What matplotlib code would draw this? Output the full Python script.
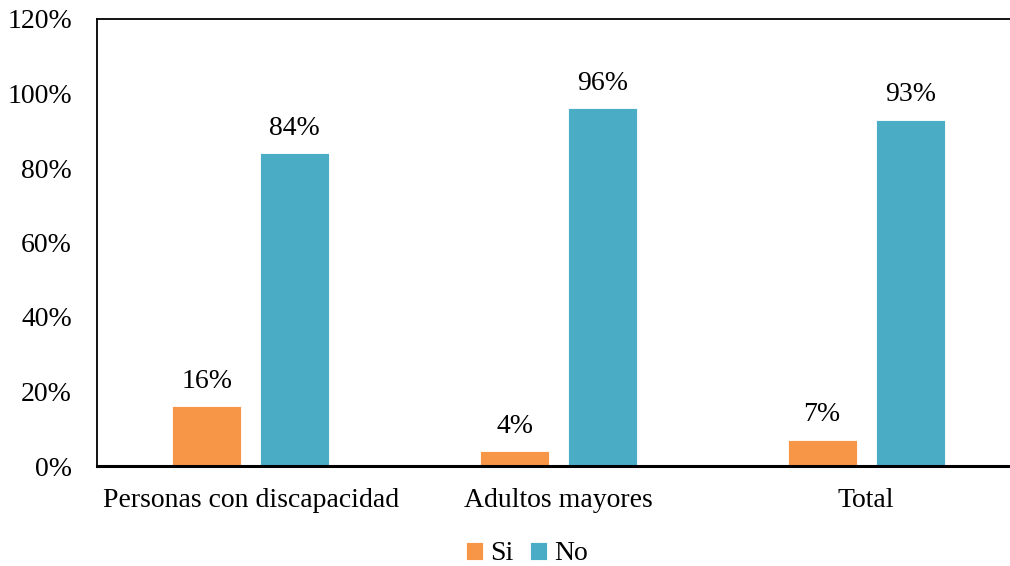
import numpy as np
import matplotlib.pyplot as plt

categories = ["Personas con discapacidad", "Adultos mayores", "Total"]
si = [0.16, 0.04, 0.07]
no = [0.84, 0.96, 0.93]
yticks = [0, 0.2, 0.4, 0.6, 0.8, 1.0, 1.2]

plt.rcParams['font.family'] = ['Liberation Serif', 'DejaVu Serif']

fig = plt.figure(figsize=(10.1, 5.66), dpi=100)
W, H = 1010, 566
# right edge of the plot frame lies beyond the picture
ax = fig.add_axes([97/W, 1 - 466/H, (1020 - 97)/W, (466 - 19)/H])

x = np.arange(len(categories))
w = 0.224
off = 0.143
b1 = ax.bar(x - off, si, w, color='#F79646', edgecolor='white', linewidth=0.6, label='Si')
b2 = ax.bar(x + off, no, w, color='#4BACC6', edgecolor='white', linewidth=0.6, label='No')

for bars, vals in [(b1, si), (b2, no)]:
    for r, v in zip(bars, vals):
        ax.annotate(f"{v*100:.0f}%", (r.get_x() + r.get_width()/2, v),
                    xytext=(0, 9), textcoords='offset points',
                    ha='center', va='bottom', fontsize=20)

ax.set_xlim(-0.5, 2.5)
ax.set_ylim(0, 1.2)
ax.set_yticks(yticks)
ax.set_yticklabels([f"{t*100:.0f}%" for t in yticks], fontsize=20)
ax.set_xticks(x)
ax.set_xticklabels(categories, fontsize=20)
ax.tick_params(length=0)
ax.tick_params(axis='y', pad=18)
ax.tick_params(axis='x', pad=16)

for s in ['left', 'top', 'right']:
    ax.spines[s].set_linewidth(1.3)
ax.spines['bottom'].set_linewidth(2.2)

ax.legend(loc='center', bbox_to_anchor=(527/W, 1 - 554/H), bbox_transform=fig.transFigure,
          ncol=2, frameon=False, fontsize=20, handlelength=0.6, handleheight=0.6,
          handletextpad=0.25, columnspacing=0.6)

fig.savefig('out.png', dpi=100)
